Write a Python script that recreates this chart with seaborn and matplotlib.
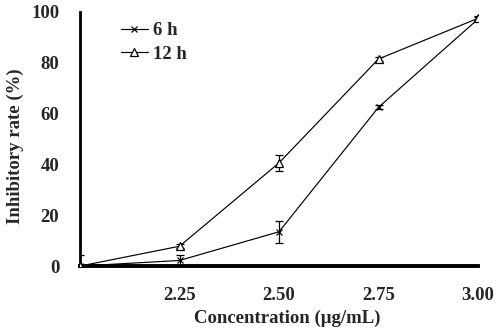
import matplotlib
matplotlib.use("Agg")
import matplotlib.pyplot as plt
from matplotlib.lines import Line2D
import seaborn as sns
import pandas as pd

concentration = [2.00, 2.25, 2.50, 2.75, 3.00]
rate_6h = [0.0, 2.2, 13.5, 62.5, 97.2]
err_6h = [4.2, 2.3, 4.3, 0.8, 0.8]
rate_12h = [0.0, 7.8, 40.6, 81.5, 97.5]
err_12h = [0.5, 0.8, 3.2, 0.8, 0.8]
series_labels = ["6 h", "12 h"]
xtick_values = [2.25, 2.50, 2.75, 3.00]
xtick_labels = ["2.25", "2.50", "2.75", "3.00"]
ytick_values = [0, 20, 40, 60, 80, 100]

sns.set_style("white")
plt.rcParams["font.family"] = ["Liberation Serif", "DejaVu Serif"]
plt.rcParams["font.weight"] = "bold"

fig = plt.figure(figsize=(5.0, 3.33), dpi=100)
ax = fig.add_axes([0.16, 0.201, 0.796, 0.763])

series = [
    (series_labels[0], rate_6h, err_6h, "x", 5),
    (series_labels[1], rate_12h, err_12h, "^", 6),
]
for lab, rates, errs, mk, ms in series:
    ax.errorbar(concentration, rates, yerr=errs, fmt="none", ecolor="black",
                elinewidth=0.9, capsize=3, capthick=0.9, zorder=2)
    d = pd.DataFrame({"conc": concentration, "rate": rates})
    sns.lineplot(data=d, x="conc", y="rate", marker=mk, color="black",
                 linewidth=0.85, legend=False, ax=ax, markeredgecolor="black",
                 mfc="white", mew=0.9, markersize=ms, zorder=3)

ax.set_xlim(2.0, 3.0)
ax.set_ylim(0, 100)
ax.set_xticks(xtick_values)
ax.set_xticklabels(xtick_labels)
ax.set_yticks(ytick_values)
ax.tick_params(axis="both", direction="in", length=5, width=1.5, labelsize=13.5)
ax.tick_params(axis="x", pad=15)
ax.tick_params(axis="y", pad=15)
for lbl in ax.get_xticklabels() + ax.get_yticklabels():
    lbl.set_fontweight("bold")

ax.spines["top"].set_visible(False)
ax.spines["right"].set_visible(False)
ax.spines["left"].set_linewidth(2)
ax.spines["bottom"].set_linewidth(2.8)
ax.spines["left"].set_color("black")
ax.spines["bottom"].set_color("black")

ax.set_xlabel("Concentration (μg/mL)", fontsize=13.5, fontweight="bold")
ax.set_ylabel("Inhibitory rate (%)", fontsize=13.5, fontweight="bold")
ax.xaxis.set_label_coords(0.521, -0.172)
ax.yaxis.set_label_coords(-0.14, 0.47)

handles = [
    Line2D([], [], color="black", lw=0.85, marker="x", ms=5, mew=0.9),
    Line2D([], [], color="black", lw=0.85, marker="^", ms=6, mfc="white", mec="black", mew=0.9),
]
leg = ax.legend(handles, series_labels, loc="upper left", bbox_to_anchor=(0.085, 0.99),
                frameon=False, fontsize=13.5, handlelength=1.4, handletextpad=0.3,
                labelspacing=0.35, borderaxespad=0)
for t in leg.get_texts():
    t.set_fontweight("bold")

fig.savefig("out.png", dpi=100)
